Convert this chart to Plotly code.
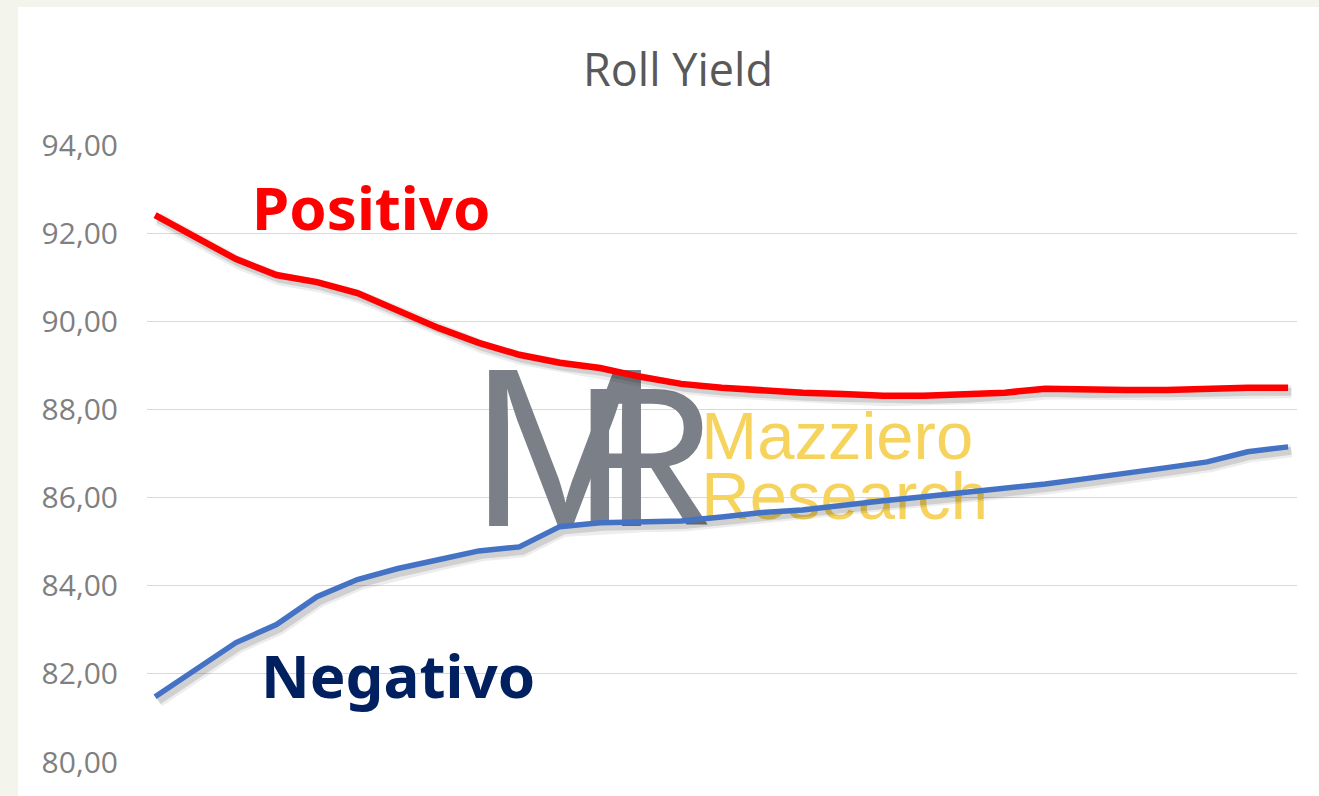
import plotly.graph_objects as go

# ---- data ----
periodi = list(range(1, 30))
positivo = [92.41, 91.90, 91.41, 91.05, 90.89, 90.64, 90.26, 89.85, 89.51, 89.24,
            89.06, 88.94, 88.74, 88.58, 88.49, 88.42, 88.38, 88.35, 88.31, 88.31,
            88.33, 88.38, 88.47, 88.44, 88.44, 88.44, 88.47, 88.49, 88.49]
negativo = [81.48, 82.10, 82.71, 83.12, 83.75, 84.14, 84.39, 84.59, 84.79, 84.88,
            85.34, 85.43, 85.45, 85.47, 85.56, 85.66, 85.72, 85.84, 85.93, 86.02,
            86.11, 86.20, 86.31, 86.43, 86.54, 86.68, 86.81, 87.04, 87.15]
y_ticks = [80, 82, 84, 86, 88, 90, 92, 94]
title_text = "Roll Yield"

RED = "#FF0000"
BLUE = "#4472C4"
LOGO_FONT = "Liberation Sans Narrow, Liberation Sans"

fig = go.Figure()

# watermark (drawn below the lines)
fig.add_trace(go.Scatter(x=[11.13], y=[86.65], mode="text", text=["M"],
                         textfont=dict(family=LOGO_FONT, size=227, color="#7b8088"),
                         hoverinfo="skip", showlegend=False))
fig.add_trace(go.Scatter(x=[13.12], y=[86.52], mode="text", text=["R"],
                         textfont=dict(family=LOGO_FONT, size=197, color="#7b8088"),
                         hoverinfo="skip", showlegend=False))
fig.add_trace(go.Scatter(x=[14.5], y=[87.26], mode="text", text=["Mazziero"], textposition="middle right",
                         textfont=dict(family=LOGO_FONT, size=67, color="#F5D35C"),
                         hoverinfo="skip", showlegend=False))
fig.add_trace(go.Scatter(x=[14.5], y=[85.9], mode="text", text=["Research"], textposition="middle right",
                         textfont=dict(family=LOGO_FONT, size=67, color="#F5D35C"),
                         hoverinfo="skip", showlegend=False))

# soft shadows
dx, dy = 0.08, 0.09
for series in (positivo, negativo):
    sx = [p + dx for p in periodi]
    sy = [v - dy for v in series]
    fig.add_trace(go.Scatter(x=sx, y=sy, mode="lines", line=dict(color="rgba(0,0,0,0.07)", width=13),
                             hoverinfo="skip", showlegend=False))
    fig.add_trace(go.Scatter(x=sx, y=sy, mode="lines", line=dict(color="rgba(0,0,0,0.12)", width=8),
                             hoverinfo="skip", showlegend=False))

fig.add_trace(go.Scatter(x=periodi, y=positivo, mode="lines", name="Positivo",
                         line=dict(color=RED, width=6.5)))
fig.add_trace(go.Scatter(x=periodi, y=negativo, mode="lines", name="Negativo",
                         line=dict(color=BLUE, width=5.5)))

fig.add_annotation(x=6.34, y=92.59, text="<b>Positivo</b>", showarrow=False,
                   font=dict(family="Noto Sans", size=60, color=RED))
fig.add_annotation(x=7.0, y=81.97, text="<b>Negativo</b>", showarrow=False,
                   font=dict(family="Noto Sans", size=60, color="#002060"))

# background frame
fig.add_shape(type="rect", xref="paper", yref="paper", x0=-0.1122, x1=1.05, y0=-0.06, y1=1.2237,
              fillcolor="white", line=dict(width=0), layer="below")

fig.update_layout(
    width=1319, height=796,
    margin=dict(l=147, r=22, t=145, b=34),
    paper_bgcolor="#F3F5EC",
    plot_bgcolor="white",
    separators=",.",
    showlegend=False,
    title=dict(text=title_text, x=0.4617, xref="paper", xanchor="center", y=0.912, yanchor="middle",
               font=dict(family="Open Sans", size=45, color="#595959")),
    xaxis=dict(range=[0.8, 29.22], showgrid=False, showticklabels=False, zeroline=False, showline=False, ticks=""),
    yaxis=dict(range=[80, 94], tickvals=y_ticks, tickformat=".2f", showgrid=True, gridcolor="#D9D9D9", gridwidth=1.2,
               zeroline=False, showline=False, ticks="", ticklabelstandoff=28,
               tickfont=dict(family="Open Sans", size=30, color="#7F7F7F")),
)

fig.write_html("out.html", config={"displayModeBar": False},
               post_script="document.body.style.margin='0';")
